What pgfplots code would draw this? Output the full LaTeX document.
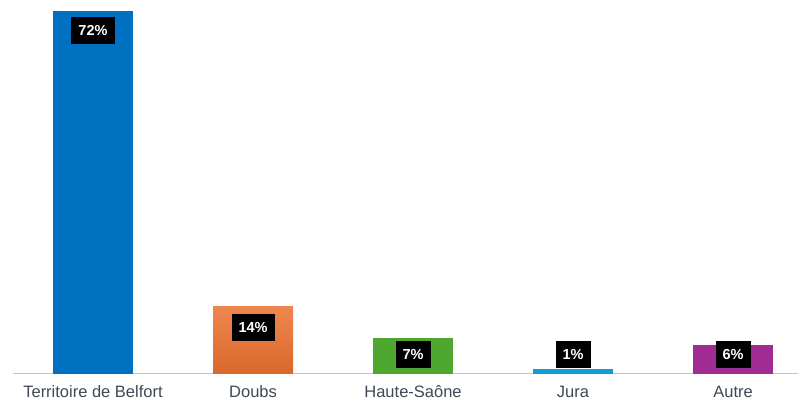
\documentclass[border=0pt]{standalone}
\usepackage{fontspec}
\setmainfont{Liberation Sans}
\usepackage{pgfplots}
\pgfplotsset{compat=1.18}

\definecolor{cBlue}{HTML}{0070C0}
\definecolor{cOrange}{HTML}{EC7130}
\definecolor{cGreen}{HTML}{4EA72E}
\definecolor{cLight}{HTML}{0F9ED5}
\definecolor{cPurple}{HTML}{A02B93}
\definecolor{axisblue}{HTML}{A9CBEB}
\definecolor{labgray}{HTML}{3E4856}

\begin{document}
\begin{tikzpicture}
\path[use as bounding box] (-13pt,-31.5pt) rectangle (785pt,373.5pt);
\begin{axis}[
    scale only axis,
    width=785pt, height=373.5pt,
    xmin=-0.5, xmax=4.406,
    ymin=0, ymax=74.2,
    axis x line=bottom,
    axis y line=none,
    x axis line style={-, draw=axisblue, line width=1.2pt},
    xtick={0,1,2,3,4},
    xticklabels={Territoire de Belfort, Doubs, Haute-Saône, Jura, Autre},
    major tick length=0pt,
    xtick style={draw=none},
    ytick=\empty,
    xticklabel style={anchor=north, inner sep=0pt, yshift=-12pt,
        text=labgray, font=\fontsize{16.5}{16.5}\selectfont},
    clip=false,
]
\addplot[ybar, bar width=80pt, bar shift=0pt, fill=cBlue, draw=none] coordinates {(0,72)};
\addplot[ybar, bar width=80pt, bar shift=0pt, draw=none, top color=cOrange!85!white, bottom color=cOrange!92!black] coordinates {(1,13.3)};
\addplot[ybar, bar width=80pt, bar shift=0pt, fill=cGreen, draw=none] coordinates {(2,7)};
\addplot[ybar, bar width=80pt, bar shift=0pt, fill=cLight, draw=none] coordinates {(3,0.8)};
\addplot[ybar, bar width=80pt, bar shift=0pt, fill=cPurple, draw=none] coordinates {(4,5.7)};

% data labels (black boxes)
\addplot[draw=none, mark=none, nodes near coords, point meta=explicit symbolic,
    every node near coord/.style={fill=black, text=white, anchor=center,
        font=\bfseries\fontsize{14.5}{14.5}\selectfont,
        inner xsep=7pt, inner ysep=0pt, minimum height=27pt}]
    table[meta=label] {
x y label
0 68.2 72\%
1 9.2 14\%
2 3.7 7\%
3 3.7 1\%
4 3.7 6\%
};
\end{axis}
\end{tikzpicture}
\end{document}
